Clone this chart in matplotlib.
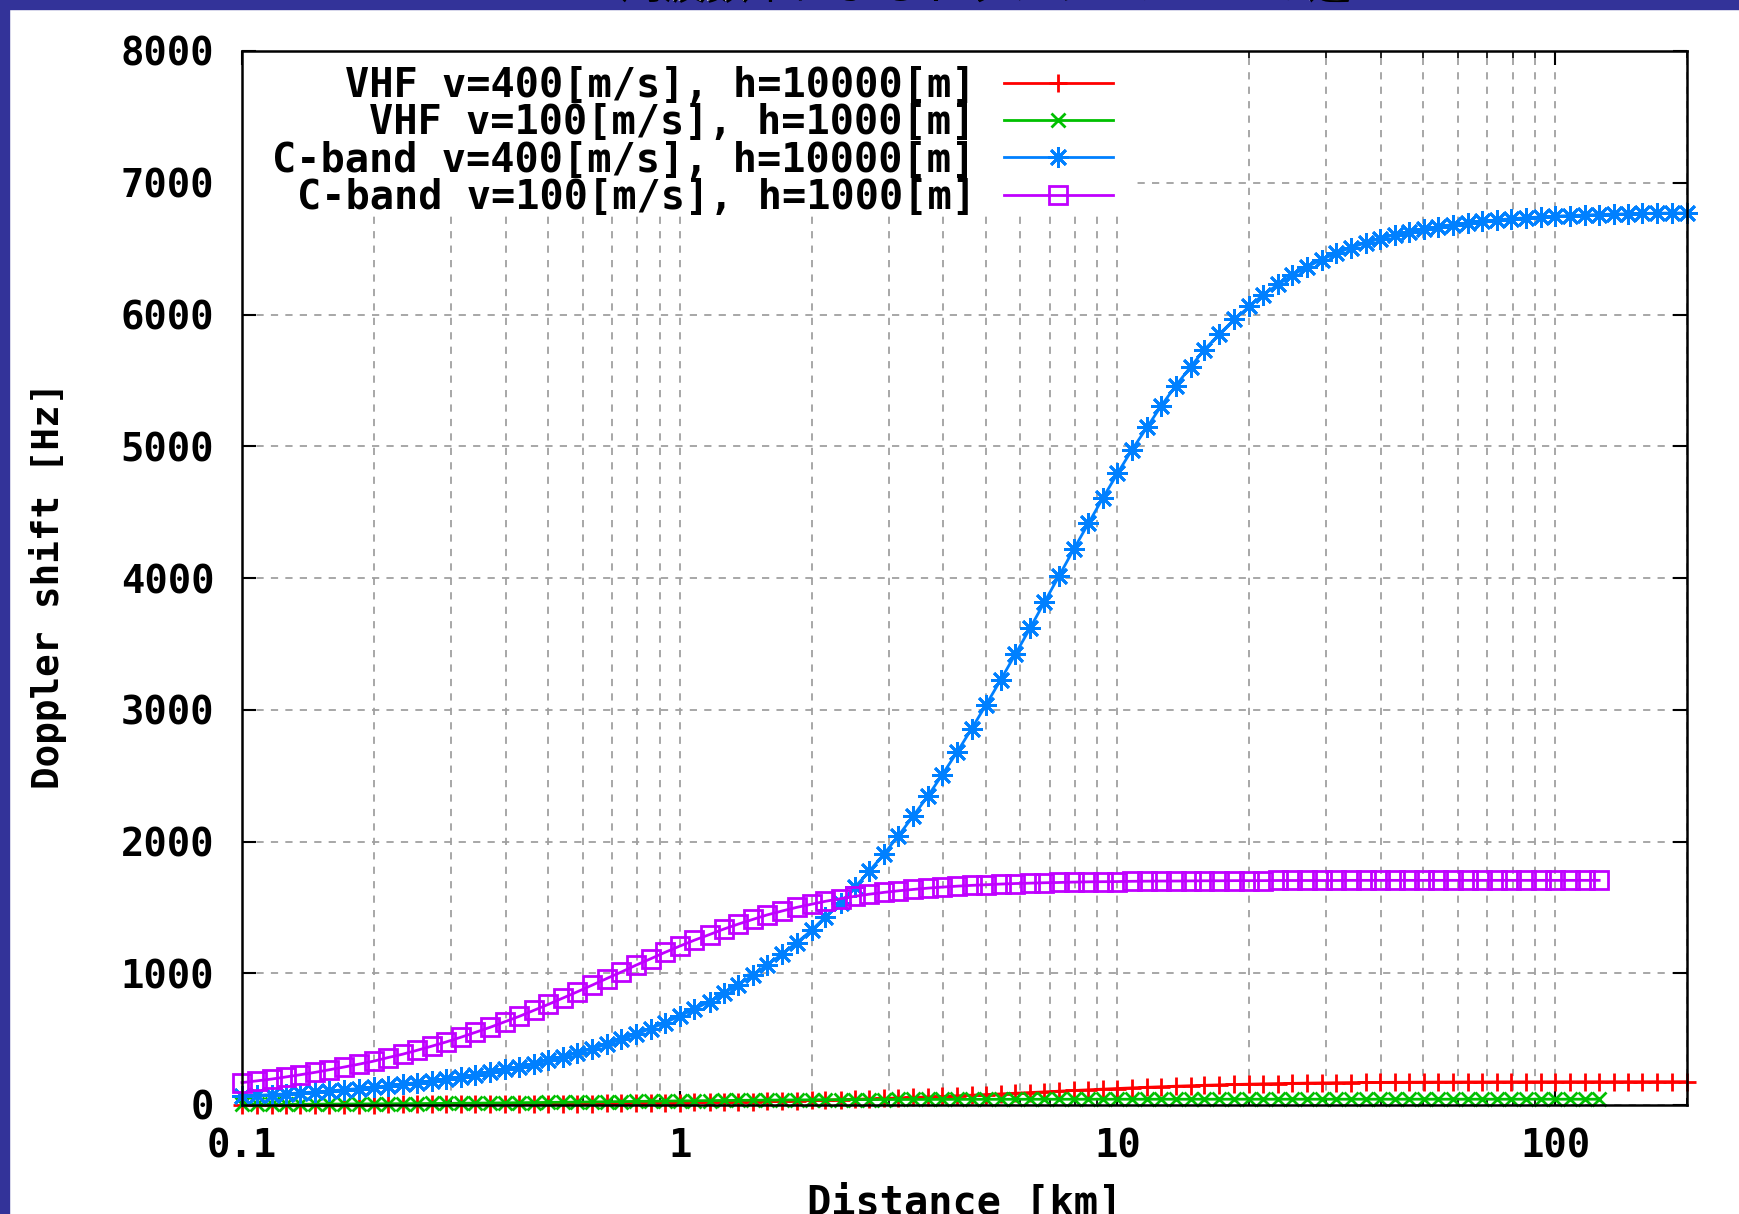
import matplotlib
matplotlib.use("Agg")
import matplotlib.pyplot as plt
from matplotlib.patches import Rectangle
from matplotlib.ticker import FixedLocator, LogLocator, NullFormatter

# distance samples [km]
distance_km = [0.100, 0.108, 0.117, 0.126, 0.136, 0.147, 0.158, 0.171, 0.185, 0.200,
               0.215, 0.233, 0.251, 0.271, 0.293, 0.316, 0.341, 0.369, 0.398, 0.430,
               0.464, 0.501, 0.541, 0.584, 0.631, 0.681, 0.736, 0.794, 0.858, 0.926,
               1.00, 1.08, 1.17, 1.26, 1.36, 1.47, 1.58, 1.71, 1.85, 2.00,
               2.15, 2.33, 2.51, 2.71, 2.93, 3.16, 3.41, 3.69, 3.98, 4.30,
               4.64, 5.01, 5.41, 5.84, 6.31, 6.81, 7.36, 7.94, 8.58, 9.26,
               10.0, 10.8, 11.7, 12.6, 13.6, 14.7, 15.8, 17.1, 18.5, 20.0,
               21.5, 23.3, 25.1, 27.1, 29.3, 31.6, 34.1, 36.9, 39.8, 43.0,
               46.4, 50.1, 54.1, 58.4, 63.1, 68.1, 73.6, 79.4, 85.8, 92.6,
               100, 108, 117, 126, 136, 147, 158, 171, 185, 200]

# Doppler shift [Hz]
vhf_400 = [1.8, 1.9, 2.1, 2.2, 2.4, 2.6, 2.8, 3.0, 3.3, 3.5,
           3.8, 4.1, 4.4, 4.8, 5.2, 5.6, 6.0, 6.5, 7.0, 7.6,
           8.2, 8.9, 9.6, 10.3, 11.1, 12.0, 13.0, 14.0, 15.1, 16.3,
           17.6, 19.0, 20.5, 22.1, 23.8, 25.7, 27.7, 29.9, 32.2, 34.6,
           37.3, 40.1, 43.1, 46.3, 49.8, 53.4, 57.2, 61.2, 65.5, 69.9,
           74.5, 79.3, 84.2, 89.3, 94.5, 99.7, 104.9, 110.1, 115.2, 120.3,
           125.2, 129.9, 134.4, 138.6, 142.6, 146.3, 149.7, 152.8, 155.7, 158.2,
           160.5, 162.6, 164.4, 166.1, 167.5, 168.8, 169.9, 170.8, 171.7, 172.4,
           173.0, 173.6, 174.1, 174.5, 174.8, 175.1, 175.4, 175.6, 175.8, 176.0,
           176.1, 176.2, 176.3, 176.4, 176.5, 176.6, 176.6, 176.7, 176.7, 176.8]

vhf_100 = [4.4, 4.7, 5.1, 5.5, 5.9, 6.4, 6.9, 7.4, 8.0, 8.6,
           9.3, 10.0, 10.7, 11.5, 12.4, 13.3, 14.2, 15.2, 16.3, 17.4,
           18.5, 19.7, 20.9, 22.2, 23.5, 24.8, 26.1, 27.4, 28.6, 29.9,
           31.1, 32.3, 33.4, 34.5, 35.4, 36.4, 37.2, 38.0, 38.7, 39.3,
           39.9, 40.4, 40.9, 41.3, 41.6, 42.0, 42.2, 42.5, 42.7, 42.9,
           43.0, 43.2, 43.3, 43.4, 43.5, 43.5, 43.6, 43.7, 43.7, 43.7,
           43.8, 43.8, 43.8, 43.9, 43.9, 43.9, 43.9, 43.9, 44.0, 44.0,
           44.0, 44.0, 44.0, 44.0, 44.0, 44.0, 44.0, 44.0, 44.0, 44.0,
           44.0, 44.0, 44.0, 44.0, 44.0, 44.0, 44.0, 44.0, 44.0, 44.0,
           44.0, 44.0, 44.0, 44.0]

cband_400 = [68, 73, 79, 85, 92, 100, 107, 116, 125, 136,
             146, 158, 170, 184, 199, 214, 231, 250, 270, 291,
             314, 339, 366, 395, 427, 461, 498, 537, 580, 625,
             675, 728, 785, 847, 913, 985, 1061, 1144, 1232, 1326,
             1428, 1536, 1652, 1775, 1906, 2044, 2191, 2345, 2508, 2678,
             2854, 3038, 3227, 3420, 3618, 3817, 4018, 4217, 4414, 4607,
             4794, 4975, 5147, 5309, 5461, 5604, 5734, 5853, 5963, 6061,
             6149, 6229, 6299, 6361, 6417, 6464, 6507, 6544, 6576, 6604,
             6628, 6649, 6667, 6683, 6696, 6708, 6718, 6727, 6734, 6741,
             6746, 6751, 6755, 6759, 6762, 6764, 6767, 6769, 6770, 6771]

cband_100 = [170, 183, 197, 213, 230, 248, 267, 288, 310, 333,
             359, 386, 415, 446, 479, 514, 551, 590, 631, 673,
             718, 764, 812, 860, 910, 960, 1010, 1061, 1110, 1159,
             1206, 1251, 1294, 1335, 1373, 1409, 1442, 1472, 1500, 1524,
             1546, 1566, 1584, 1600, 1614, 1626, 1636, 1646, 1654, 1661,
             1667, 1672, 1677, 1681, 1684, 1687, 1689, 1692, 1694, 1695,
             1696, 1698, 1699, 1700, 1700, 1701, 1702, 1702, 1703, 1703,
             1703, 1704, 1704, 1704, 1704, 1704, 1705, 1705, 1705, 1705,
             1705, 1705, 1705, 1705, 1705, 1705, 1705, 1705, 1705, 1705,
             1705, 1705, 1705, 1705]

labels = ["VHF v=400[m/s], h=10000[m]",
          "VHF v=100[m/s], h=1000[m]",
          "C-band v=400[m/s], h=10000[m]",
          "C-band v=100[m/s], h=1000[m]"]
x_ticks = [0.1, 1, 10, 100]
x_ticklabels = ["0.1", "1", "10", "100"]
y_ticks = [0, 1000, 2000, 3000, 4000, 5000, 6000, 7000, 8000]
title = "周波数帯によるドップラーシフトの違い"

plt.rcParams['font.family'] = ['DejaVu Sans Mono']

W, H = 1739, 1214
fig = plt.figure(figsize=(W / 100, H / 100), dpi=100)
fig.patch.set_facecolor('white')

# slide background band (top and left)
band = '#333399'
fig.add_artist(Rectangle((0, 1 - 9 / H), 1, 9 / H, transform=fig.transFigure,
                         color=band, zorder=0))
fig.add_artist(Rectangle((0, 0), 9 / W, 1, transform=fig.transFigure,
                         color=band, zorder=0))
fig.text(0.578 + 2 / W, 1 - 9 / H, title, ha='center', va='bottom', color='black',
         fontsize=31, family=['Noto Sans CJK JP', 'DejaVu Sans'])
fig.text(0.578, 1 - 7 / H, title, ha='center', va='bottom', color='white',
         fontsize=31, family=['Noto Sans CJK JP', 'DejaVu Sans'])

ax = fig.add_axes([242 / W, 1 - 1105 / H, 1445 / W, 1054 / H])

ax.plot(distance_km, vhf_400, color='#ff0000', lw=2, marker='+', ms=13,
        mew=2, label=labels[0], clip_on=False)
ax.plot(distance_km[:len(vhf_100)], vhf_100, color='#00c000', lw=2, marker='x',
        ms=10, mew=2, label=labels[1], clip_on=False)
ax.plot(distance_km, cband_400, color='#0080ff', lw=2, marker=(8, 2, 0), ms=15,
        mew=2, label=labels[2], clip_on=False)
ax.plot(distance_km[:len(cband_100)], cband_100, color='#c000ff', lw=2, marker='s',
        ms=13, mew=2, mfc='none', label=labels[3], clip_on=False)

ax.set_xscale('log')
ax.set_xlim(0.1, 200)
ax.set_ylim(0, 8000)
ax.xaxis.set_major_locator(FixedLocator(x_ticks))
ax.set_xticklabels(x_ticklabels)
ax.xaxis.set_minor_locator(LogLocator(base=10, subs=range(2, 10)))
ax.xaxis.set_minor_formatter(NullFormatter())
ax.set_yticks(y_ticks)

grid_kw = dict(color='#a0a0a0', ls=(0, (4, 4)), lw=1.3)
ax.grid(True, which='both', axis='x', **grid_kw)
ax.grid(True, which='major', axis='y', **grid_kw)
ax.set_axisbelow(True)

# key area hides the grid
ax.add_patch(Rectangle((0, 0.846), 0.618, 0.154, transform=ax.transAxes,
                       color='white', zorder=1))

ax.tick_params(which='major', direction='in', length=10, width=1.5,
               top=True, right=True, labelsize=28)
ax.tick_params(which='minor', direction='in', length=5, width=1.2,
               top=True, right=True)
ax.tick_params(axis='y', pad=20)
ax.tick_params(axis='x', pad=16)
for lbl in ax.get_xticklabels() + ax.get_yticklabels():
    lbl.set_fontweight('bold')
for sp in ax.spines.values():
    sp.set_linewidth(1.8)

ax.set_xlabel('Distance [km]', fontsize=29, fontweight='bold')
ax.set_ylabel('Doppler shift [Hz]', fontsize=27, fontweight='bold')
ax.xaxis.set_label_coords(0.5, -0.075)
ax.yaxis.set_label_coords(-0.121, 0.493)

ax.legend(loc='upper right', bbox_to_anchor=(0.6025, 0.986), frameon=False,
          markerfirst=False,
          prop={'family': 'DejaVu Sans Mono', 'size': 29, 'weight': 'bold'},
          handlelength=2.7, handletextpad=0.7, labelspacing=-0.04,
          borderpad=0, borderaxespad=0)

fig.savefig('out.png', dpi=100)
